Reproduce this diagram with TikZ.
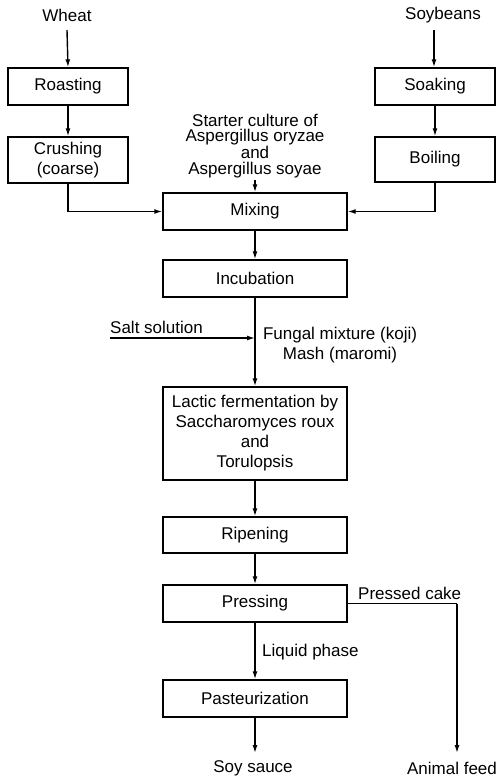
\documentclass[tikz,border=0pt]{standalone}
\usepackage{fontspec}
\setmainfont{Liberation Sans}
\usetikzlibrary{arrows.meta}
\begin{document}
\begin{tikzpicture}[x=1pt,y=-1pt,
  every node/.style={font=\fontsize{17}{20}\selectfont},
  box/.style={draw,line width=1.4pt,align=center,inner sep=0pt},
  smallbox/.style={box,minimum width=120pt},
  bigbox/.style={box,minimum width=184pt},
  lbl/.style={inner sep=0pt,align=center},
  flow/.style={line width=1.4pt,-{Latex[length=8pt,width=5pt]}},
  plain/.style={line width=1.4pt}]
\useasboundingbox (0,0) rectangle (501,780);
% left branch
\node[lbl] (wheat) at (67,15) {Wheat};
\node[smallbox,minimum height=37pt] (roast) at (68,86.5) {Roasting};
\node[smallbox,minimum height=46pt] (crush) at (68,160) {Crushing\\(coarse)};
% right branch
\node[lbl] (soy) at (443,15) {Soybeans};
\node[smallbox,minimum height=37pt] (soak) at (435,86.5) {Soaking};
\node[smallbox,minimum height=45pt] (boil) at (435,159.5) {Boiling};
% starter
\node[lbl,font=\fontsize{17}{15.8}\selectfont] (starter) at (255,146)
  {Starter culture of\\Aspergillus oryzae\\and\\Aspergillus soyae};
% main column
\node[bigbox,minimum height=37pt] (mix) at (255,211.5) {Mixing};
\node[bigbox,minimum height=37pt] (incub) at (255,278.5) {Incubation};
\node[bigbox,minimum height=93pt] (lactic) at (255,433.5)
  {Lactic fermentation by\\Saccharomyces roux\\and\\Torulopsis};
\node[bigbox,minimum height=36pt] (ripen) at (255,535) {Ripening};
\node[bigbox,minimum height=37pt] (press) at (255,603.5) {Pressing};
\node[bigbox,minimum height=37pt] (past) at (255,698.5) {Pasteurization};
% labels
\node[lbl,anchor=base west] (salt) at (110,333) {Salt solution};
\node[lbl] (fungal) at (340,345) {Fungal mixture (koji)\\Mash (maromi)};
\node[lbl,anchor=west] (liquid) at (262,652) {Liquid phase};
\node[lbl,anchor=west] (cake) at (358,593) {Pressed cake};
\node[lbl] (soysauce) at (253,768) {Soy sauce};
\node[lbl] (feed) at (452,768) {Animal feed};
% coordinates
\coordinate (wtop) at (67,30);
\coordinate (stop) at (434,30);
\coordinate (sttop) at (255,180);
\coordinate (saltstart) at (110,338);
\coordinate (saltend) at (255,338);
\coordinate (soyend) at (255,753);
\coordinate (cakecorner) at (457,603.5);
\coordinate (feedend) at (457,753);
% connectors
\draw[flow] (wtop) -- (roast.north);
\draw[flow] (roast) -- (crush);
\draw[flow] (crush.south) |- (mix.west);
\draw[flow] (stop) -- (stop |- soak.north);
\draw[flow] (soak) -- (boil);
\draw[flow] (boil.south) |- (mix.east);
\draw[flow] (sttop) -- (mix.north);
\draw[flow] (mix) -- (incub);
\draw[flow] (incub) -- (lactic);
\draw[flow] (saltstart) -- (saltend);
\draw[flow] (lactic) -- (ripen);
\draw[flow] (ripen) -- (press);
\draw[flow] (press) -- (past);
\draw[flow] (past.south) -- (soyend);
\draw[plain] (press.east) -- (cakecorner);
\draw[flow] (cakecorner) -- (feedend);
\end{tikzpicture}
\end{document}
